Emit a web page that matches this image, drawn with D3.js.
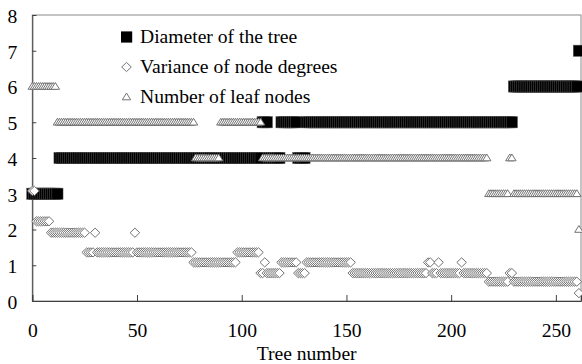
<!DOCTYPE html>
<html>
<head>
<meta charset="utf-8">
<script src="https://cdn.jsdelivr.net/npm/d3@7"></script>
<style>
  html, body { margin: 0; padding: 0; background: #fff; }
  svg { display: block; font-family: "Times New Roman", "Liberation Serif", serif; }
</style>
</head>
<body>
<svg id="chart" width="582" height="364"></svg>
<script>
// runs: [first tree, last tree, value]
const diameterRuns = [
  [0, 12, 3], [13, 109, 4], [110, 112, 5], [113, 118, 4], [119, 126, 5],
  [127, 130, 4], [131, 229, 5], [230, 260, 6], [261, 261, 7]
];
const varianceRuns = [
  [0, 1, 3.08], [2, 8, 2.23], [9, 25, 1.91], [26, 29, 1.36], [30, 30, 1.91],
  [31, 48, 1.36], [49, 49, 1.91], [50, 76, 1.36], [77, 97, 1.08], [98, 108, 1.36],
  [109, 110, 0.78], [111, 111, 1.08], [112, 118, 0.78], [119, 126, 1.08],
  [127, 130, 0.78], [131, 152, 1.08], [153, 188, 0.78], [189, 190, 1.08],
  [191, 193, 0.78], [194, 194, 1.08], [195, 204, 0.78], [205, 205, 1.08],
  [206, 217, 0.78], [218, 227, 0.54], [228, 229, 0.78], [230, 260, 0.54],
  [261, 261, 0.22]
];
const leafRuns = [
  [0, 11, 6], [12, 77, 5], [78, 89, 4], [90, 109, 5], [110, 217, 4],
  [218, 227, 3], [228, 229, 4], [230, 260, 3], [261, 261, 2]
];
const xTicks = [0, 50, 100, 150, 200, 250];
const yTicks = [0, 1, 2, 3, 4, 5, 6, 7, 8];
const seriesNames = ["Diameter of the tree", "Variance of node degrees", "Number of leaf nodes"];
const xTitle = "Tree number";

function expand(runs) {
  const pts = [];
  runs.forEach(([a, b, v]) => { for (let t = a; t <= b; t++) pts.push({ t, v }); });
  return pts;
}

const svg = d3.select("#chart");
const margin = { top: 15, right: 1, bottom: 63, left: 32.3 };
const W = 582, H = 364;
const fs = 19.6;

const x = d3.scaleLinear().domain([0, 262]).range([margin.left, W - margin.right]);
const y = d3.scaleLinear().domain([0, 8]).range([H - margin.bottom, margin.top]);

const grey = "#737373";
const diamond = "M0,-4.6L4.8,0L0,4.6L-4.8,0Z";
const triangle = "M0,-4L4.2,2.8L-4.2,2.8Z";

// frame
svg.append("rect")
  .attr("x", x(0)).attr("y", y(8))
  .attr("width", x(262) - x(0)).attr("height", y(0) - y(8))
  .attr("fill", "none").attr("stroke", "#8a8a8a").attr("stroke-width", 1);

// axes
const xAxis = svg.append("g").attr("transform", `translate(0,${y(0)})`)
  .call(d3.axisBottom(x).tickValues(xTicks).tickSize(-6).tickPadding(22).tickFormat(d3.format("d")));
const yAxis = svg.append("g").attr("transform", `translate(${x(0)},0)`)
  .call(d3.axisLeft(y).tickValues(yTicks).tickSize(-4).tickPadding(15).tickFormat(d3.format("d")));
[xAxis, yAxis].forEach(a => {
  a.select(".domain").attr("stroke", "#404040");
  a.selectAll(".tick line").attr("stroke", "#404040");
  a.selectAll("text").attr("font-family", "'Times New Roman', 'Liberation Serif', serif")
    .attr("font-size", fs).attr("fill", "#000");
});
yAxis.selectAll(".tick text").attr("dy", "0.38em");

svg.append("text").attr("x", (x(0) + x(262)) / 2).attr("y", 360)
  .attr("text-anchor", "middle").attr("font-size", fs).text(xTitle);

// marks: squares first, then diamonds, then triangles on top
const marks = svg.append("g");
marks.append("g").selectAll("rect").data(expand(diameterRuns)).join("rect")
  .attr("x", d => x(d.t) - 5.6).attr("y", d => y(d.v) - 5.6)
  .attr("width", 11.2).attr("height", 11.2)
  .attr("fill", "#000").attr("stroke", "#555").attr("stroke-width", 0.5);

marks.append("g").selectAll("path").data(expand(varianceRuns)).join("path")
  .attr("d", diamond).attr("transform", d => `translate(${x(d.t)},${y(d.v)})`)
  .attr("fill", "#fff").attr("stroke", grey).attr("stroke-width", 1);

marks.append("g").selectAll("path").data(expand(leafRuns)).join("path")
  .attr("d", triangle).attr("transform", d => `translate(${x(d.t)},${y(d.v)})`)
  .attr("fill", "#fff").attr("stroke", grey).attr("stroke-width", 1);

// legend
const legend = svg.append("g");
const rowsY = [37, 67, 97];
legend.append("rect").attr("x", 121).attr("y", rowsY[0] - 5.6).attr("width", 11.2).attr("height", 11.2).attr("fill", "#000");
legend.append("path").attr("d", diamond).attr("transform", `translate(126.5,${rowsY[1]})`)
  .attr("fill", "#fff").attr("stroke", grey);
legend.append("path").attr("d", triangle).attr("transform", `translate(126.5,${rowsY[2]})`)
  .attr("fill", "#fff").attr("stroke", grey);
legend.selectAll("text").data(seriesNames).join("text")
  .attr("x", 140).attr("y", (d, i) => rowsY[i] + 6)
  .attr("font-size", fs).attr("fill", "#000").text(d => d);
</script>
</body>
</html>
